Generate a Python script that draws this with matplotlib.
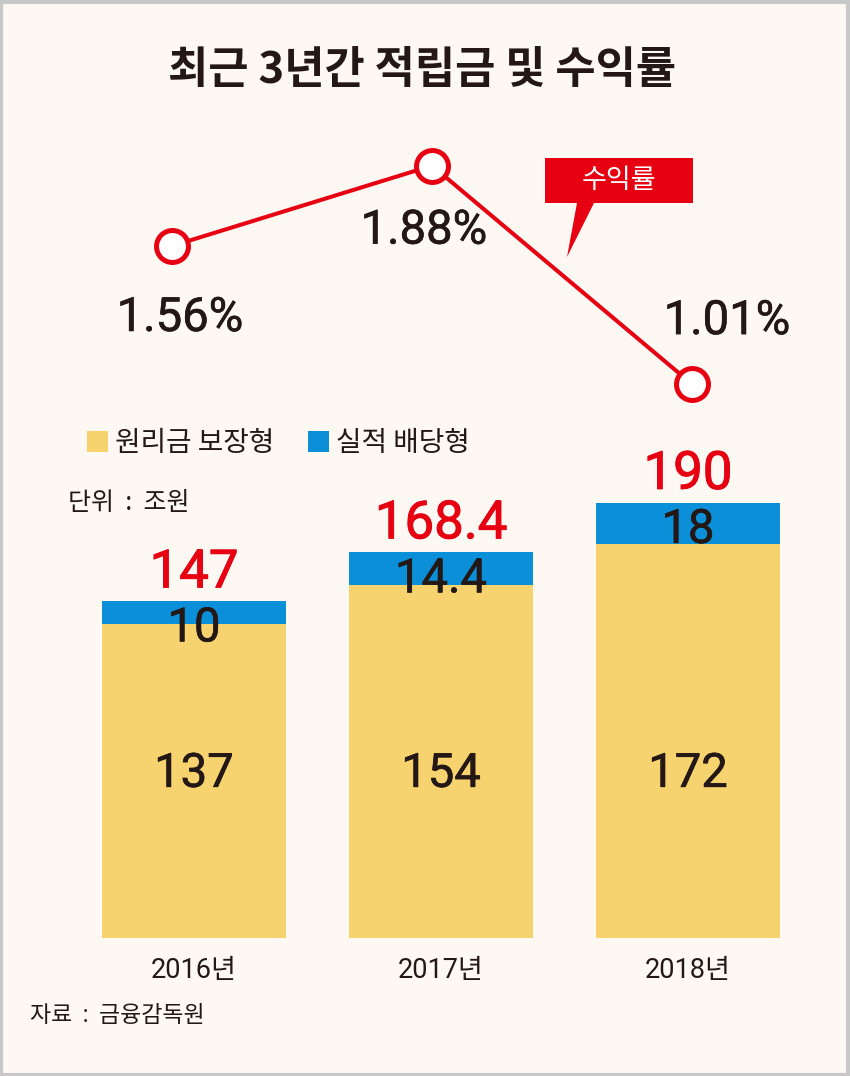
import matplotlib
matplotlib.use("Agg")
import matplotlib.pyplot as plt
import matplotlib.patheffects as pe
from matplotlib.patches import Rectangle, Polygon

# ---- data ----
years = ["2016년", "2017년", "2018년"]
guaranteed = [137, 154, 172]          # 원리금 보장형 (조원)
performance = [10, 14.4, 18]          # 실적 배당형 (조원)
totals = ["147", "168.4", "190"]
perf_labels = ["10", "14.4", "18"]
guar_labels = ["137", "154", "172"]
returns = [1.56, 1.88, 1.01]          # 수익률 (%)
return_labels = ["1.56%", "1.88%", "1.01%"]

W, H = 850, 1076
BG = "#FDF8F2"
RED = "#E60012"
YEL = "#F7D36F"
BLUE = "#0A8FD8"
TXT = "#231816"
KR = ["Noto Sans CJK KR", "DejaVu Sans"]
NUM = ["Roboto", "Noto Sans CJK KR", "DejaVu Sans"]

def thick(color, w=0.45):
    return [pe.withStroke(linewidth=w, foreground=color)]

fig = plt.figure(figsize=(W / 100, H / 100), dpi=100, facecolor=BG)

def fy(y):
    return 1 - y / H

# ---- bar axes ----
bar_bottom_px, bar_top_px = 938, 400
px_per_unit = 2.29
x0, sp = 194, 247
axb = fig.add_axes([0, fy(bar_bottom_px), 1, (bar_bottom_px - bar_top_px) / H])
axb.set_facecolor("none")
axb.set_xlim(-x0 / sp, (W - x0) / sp)
axb.set_ylim(0, (bar_bottom_px - bar_top_px) / px_per_unit)
xs = list(range(len(years)))
bw = 184 / sp
b1 = axb.bar(xs, guaranteed, width=bw, color=YEL, label="원리금 보장형")
b2 = axb.bar(xs, performance, bottom=guaranteed, width=bw, color=BLUE, label="실적 배당형")
for s in axb.spines.values():
    s.set_visible(False)
axb.set_yticks([])
axb.set_xticks(xs, years, family=NUM, fontsize=19.5, color=TXT)
axb.tick_params(axis="x", length=0, pad=14)

for i in xs:
    top = guaranteed[i] + performance[i]
    axb.annotate(totals[i], (i, top), xytext=(0, 14), textcoords="offset pixels",
                 ha="center", va="baseline", fontsize=38, color=RED, family=NUM,
                 path_effects=thick(RED, 0.7))
    axb.annotate(perf_labels[i], (i, top), xytext=(0, -40), textcoords="offset pixels",
                 ha="center", va="baseline", fontsize=34, color=TXT, family=NUM,
                 path_effects=thick(TXT))
    axb.text(i, 66, guar_labels[i], ha="center", va="baseline", fontsize=34,
             color=TXT, family=NUM, path_effects=thick(TXT))

leg = axb.legend(handles=[b1, b2], loc="center left",
                 bbox_to_anchor=(87 / W, fy(443)), bbox_transform=fig.transFigure,
                 ncol=2, frameon=False, borderpad=0, borderaxespad=0,
                 handlelength=0.76, handleheight=0.76, handletextpad=0.25,
                 columnspacing=1.2, prop={"family": KR, "size": 20})
for t in leg.get_texts():
    t.set_color(TXT)

# ---- line axes ----
lx0, lsp = 172, 260
axl = fig.add_axes([0, fy(400), 1, 270 / H])
axl.set_facecolor("none")
axl.axis("off")
axl.set_xlim(-lx0 / lsp, (W - lx0) / lsp)
axl.set_ylim(0.9465, 2.022)
axl.plot(xs, returns, color=RED, lw=2.9, marker="o", ms=23, mfc="white",
         mec=RED, mew=3.6, clip_on=False)
offs = [(8, -72), (-8, -65), (35, 63)]
for i in xs:
    axl.annotate(return_labels[i], (i, returns[i]), xytext=offs[i],
                 textcoords="offset pixels", ha="center", va="center",
                 fontsize=34, color=TXT, family=NUM, path_effects=thick(TXT))

# ---- overlay: title, callout, notes, border ----
ov = fig.add_axes([0, 0, 1, 1])
ov.set_facecolor("none")
ov.axis("off")
ov.set_xlim(0, W)
ov.set_ylim(H, 0)
ov.text(422, 70, "최근 3년간 적립금 및 수익률", ha="center", va="center",
        fontsize=31.5, fontweight="bold", color=TXT, family=KR)
ov.add_patch(Polygon([(545, 158), (693, 158), (693, 203), (594, 203),
                      (567, 257), (577, 203), (545, 203)],
                     closed=True, facecolor=RED, edgecolor="none"))
ov.text(619, 180, "수익률", ha="center", va="center", fontsize=19.5,
        color="white", family=KR)
ov.text(68, 503, "단위  :  조원", ha="left", va="center", fontsize=18,
        color=TXT, family=KR)
ov.text(30, 1015, "자료  :  금융감독원", ha="left", va="center", fontsize=16.5,
        color=TXT, family=KR)
ov.add_patch(Rectangle((1.5, 1.5), W - 3, H - 3, fill=False,
                       edgecolor="#C8C8C8", lw=3))

fig.savefig("out.png", dpi=100, facecolor=BG)
